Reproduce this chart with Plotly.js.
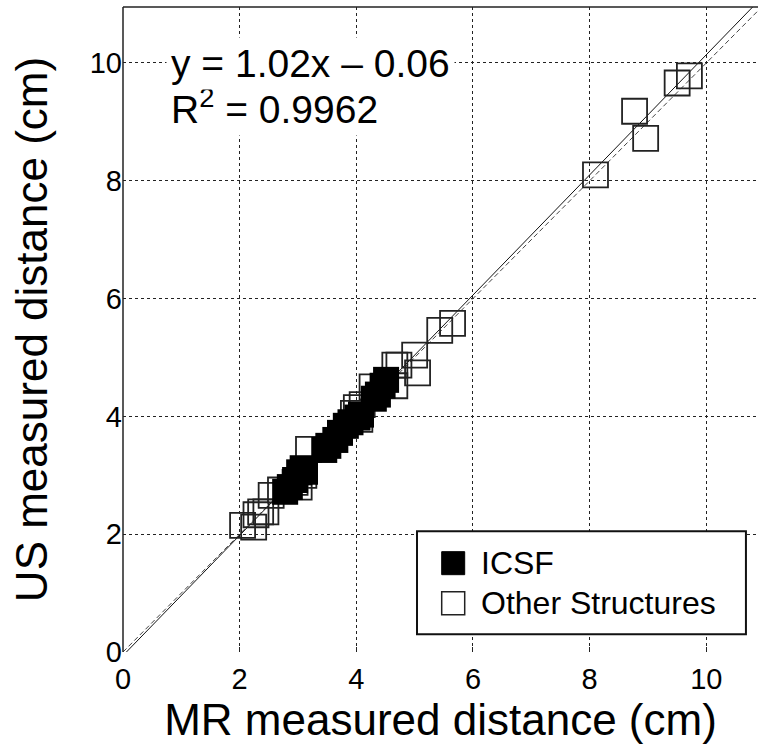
<!DOCTYPE html>
<html><head><meta charset="utf-8">
<script src="https://cdn.plot.ly/plotly-3.0.1.min.js"></script>
<style>html,body{margin:0;padding:0;background:#fff}#chart{width:758px;height:754px}</style>
</head><body><div id="chart"></div>
<script>
// ICSF (filled squares)
const icsfMR = [2.78, 2.86, 2.95, 3.02, 3.08, 3.12, 3.45, 3.52, 3.64, 3.72, 3.82, 3.90, 4.02, 4.08, 4.30, 4.37, 4.45, 4.51];
const icsfUS = [2.72, 2.80, 2.92, 3.05, 3.12, 3.06, 3.43, 3.50, 3.60, 3.72, 3.84, 3.90, 3.98, 4.03, 4.30, 4.37, 4.52, 4.62];
// Other structures (open squares)
const otherMR = [2.05, 2.24, 2.28, 2.36, 2.45, 2.54, 2.70, 2.95, 3.02, 3.18, 3.10, 3.95, 4.00, 4.10, 4.06, 4.27, 4.66, 4.73, 4.66, 5.00, 5.05, 5.43, 5.65, 8.10, 8.77, 8.96, 9.50, 9.71];
const otherUS = [2.15, 2.12, 2.33, 2.38, 2.38, 2.66, 2.75, 2.88, 2.80, 3.44, 3.00, 4.05, 4.15, 4.20, 3.95, 4.50, 4.87, 4.87, 4.52, 5.04, 4.74, 5.46, 5.58, 8.10, 9.18, 8.72, 9.66, 9.78];
// Regression
const fitSlope = 1.02;
const fitIntercept = -0.06;
const lineX = [0, 10.886];
const tickVals = [0, 2, 4, 6, 8, 10];
const tickText = ['0', '2', '4', '6', '8', '10'];
const eqLine1 = 'y = 1.02x \u2013 0.06';
const eqLine2 = 'R<sup>2</sup> = 0.9962';
const legendNames = ['ICSF', 'Other Structures'];

const FONT = 'Liberation Sans, Arial, Helvetica, sans-serif';

const traces = [
  {x: lineX, y: lineX, mode: 'lines', line: {color: '#444', width: 1, dash: '5px,3px'}, hoverinfo: 'skip'},
  {x: lineX, y: lineX.map(v => fitSlope * v + fitIntercept), mode: 'lines', line: {color: '#111', width: 1}, hoverinfo: 'skip'},
  {x: otherMR, y: otherUS, mode: 'markers', name: legendNames[1],
   marker: {symbol: 'square-open', size: 25, color: '#222', line: {width: 1.8, color: '#222'}}},
  {x: icsfMR, y: icsfUS, mode: 'markers', name: legendNames[0],
   marker: {symbol: 'square', size: 26, color: '#000', line: {width: 0}}}
];

const axisCommon = {
  tickvals: tickVals, ticktext: tickText,
  showgrid: true, gridcolor: '#222', gridwidth: 1, griddash: 'dot',
  zeroline: false, automargin: false,
  tickfont: {family: FONT, size: 29, color: '#000'}
};

const layout = {
  width: 758, height: 754,
  margin: {l: 123, r: 0, t: 7, b: 102},
  paper_bgcolor: '#fff', plot_bgcolor: '#fff',
  showlegend: false,
  font: {family: FONT, color: '#000'},
  xaxis: Object.assign({}, axisCommon, {
    range: [0, 10.886], showline: false, ticklabelstandoff: 7,
    ticks: 'inside', ticklen: 5, tickcolor: '#222', tickwidth: 1,
    title: {text: 'MR measured distance (cm)', font: {family: FONT, size: 44, color: '#000'}, standoff: 10}
  }),
  yaxis: Object.assign({}, axisCommon, {
    range: [0, 10.95], showline: false, ticks: '',
    title: {text: 'US measured distance (cm)', font: {family: FONT, size: 44, color: '#000'}, standoff: 28}
  }),
  shapes: [
    {type: 'line', xref: 'paper', yref: 'paper', x0: 0, x1: 1, y0: 1, y1: 1, line: {color: '#222', width: 1.5}},
    {type: 'line', xref: 'paper', yref: 'paper', x0: 0, x1: 0, y0: 0, y1: 1, line: {color: '#222', width: 1.5}},
    {type: 'rect', xref: 'paper', yref: 'paper', x0: 0.463, x1: 0.981, y0: 0.0275, y1: 0.1873,
     fillcolor: '#fff', line: {color: '#111', width: 2}, layer: 'above'},
    {type: 'rect', xref: 'paper', yref: 'paper', xsizemode: 'pixel', ysizemode: 'pixel',
     xanchor: 0.520, yanchor: 0.1377, x0: -11.5, x1: 11.5, y0: -11.5, y1: 11.5,
     fillcolor: '#000', line: {color: '#000', width: 1}, layer: 'above'},
    {type: 'rect', xref: 'paper', yref: 'paper', xsizemode: 'pixel', ysizemode: 'pixel',
     xanchor: 0.520, yanchor: 0.0756, x0: -11.5, x1: 11.5, y0: -11.5, y1: 11.5,
     fillcolor: '#fff', line: {color: '#222', width: 1.5}, layer: 'above'}
  ],
  annotations: [
    {xref: 'paper', yref: 'paper', x: 0.561, y: 0.1377, xanchor: 'left', yanchor: 'middle',
     text: legendNames[0], showarrow: false, font: {family: FONT, size: 32, color: '#000'}},
    {xref: 'paper', yref: 'paper', x: 0.561, y: 0.0756, xanchor: 'left', yanchor: 'middle',
     text: legendNames[1], showarrow: false, font: {family: FONT, size: 32, color: '#000'}},
    {xref: 'paper', yref: 'paper', x: 0.068, y: (651.7 - 107) / 644.4, xanchor: 'left', yanchor: 'middle',
     text: eqLine2, showarrow: false, bgcolor: '#fff', borderpad: 4, font: {family: FONT, size: 39, color: '#000'}},
    {xref: 'paper', yref: 'paper', x: 0.068, y: (651.7 - 64) / 644.4, xanchor: 'left', yanchor: 'middle',
     text: eqLine1, showarrow: false, bgcolor: '#fff', borderpad: 4, font: {family: FONT, size: 39, color: '#000'}}
  ]
};

Plotly.newPlot('chart', traces, layout, {staticPlot: true, displayModeBar: false});
</script></body></html>
